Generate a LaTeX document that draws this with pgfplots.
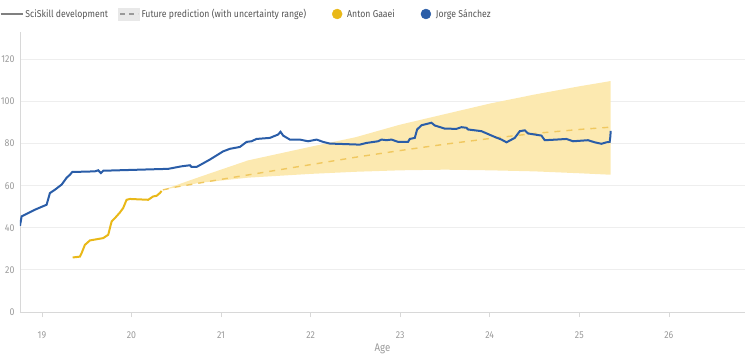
\documentclass[border=0pt]{standalone}
\usepackage{pgfplots}
\pgfplotsset{compat=1.18}
\usepackage{fontspec}
\setmainfont{Fira Sans}[FakeStretch=0.88]
\definecolor{jblue}{HTML}{2A5DA8}
\definecolor{ayellow}{HTML}{E9B818}
\definecolor{band}{HTML}{FCE9B0}
\definecolor{dashc}{HTML}{F0C860}
\definecolor{gridc}{HTML}{EEEEEE}
\definecolor{axc}{HTML}{D8D8D8}
\definecolor{tickc}{HTML}{9A9A9A}
\definecolor{legc}{HTML}{555555}
\begin{document}
\begin{tikzpicture}
\begin{axis}[
  at={(20pt,47pt)}, anchor=south west,
  scale only axis, width=725pt, height=280pt,
  xmin=18.755, xmax=26.85, ymin=0, ymax=133,
  axis x line*=bottom, axis y line*=left,
  axis line style={axc, line width=0.8pt},
  xtick={19,20,...,26}, ytick={0,20,...,120},
  ymajorgrids, grid style={gridc, line width=0.8pt},
  tick align=outside, major tick length=5pt,
  x tick style={axc, line width=0.6pt}, y tick style={draw=none},
  /pgf/number format/assume math mode=true,
  tick label style={font=\fontsize{10}{12}\selectfont, text=tickc},
  xticklabel style={yshift=-11pt},
  yticklabel style={xshift=3pt},
  xlabel={Age}, xlabel style={font=\fontsize{11}{13}\selectfont, text=tickc, yshift=1pt},
  legend columns=4,
  legend style={draw=none, fill=none, inner sep=0pt, outer sep=0pt, at={(axis description cs:0,1)}, anchor=west,
    xshift=-20pt, yshift=18pt, font=\fontsize{9.9}{11}\selectfont, text=legc,
    /tikz/every even column/.append style={column sep=8pt}},
]
\addlegendimage{legend image code/.code={\draw[color=gray, line width=1.5pt] (0pt,0pt) -- (22pt,0pt);}}
\addlegendentry{SciSkill development}
\addlegendimage{legend image code/.code={\fill[gray!18] (0pt,-6pt) rectangle (21pt,6pt); \draw[color=gray!80, line width=1.2pt, dash pattern=on 5pt off 4pt] (2pt,0pt) -- (20pt,0pt);}}
\addlegendentry{Future prediction (with uncertainty range)}
\addlegendimage{legend image code/.code={\path[draw=none,fill=none] (0pt,0pt) -- (29pt,0pt); \fill[ayellow] (21pt,0pt) circle (5pt);}}
\addlegendentry{Anton Gaaei}
\addlegendimage{legend image code/.code={\path[draw=none,fill=none] (0pt,0pt) -- (29pt,0pt); \fill[jblue] (21pt,0pt) circle (5pt);}}
\addlegendentry{Jorge Sánchez}

% uncertainty band
\addplot[fill=band, draw=none, forget plot] coordinates {
 (20.35,58) (20.75,64) (21.3,72) (22,78.5) (22.5,83) (23,89) (23.5,94) (24,99) (24.5,103.3) (25,107.2) (25.35,109.7)
 (25.35,65.2) (25,65.9) (24.5,66.8) (24,67.3) (23.5,67.6) (23,67.3) (22.5,66.6) (22,65.6) (21.3,63.8) (20.75,61.3) (20.35,58)
} -- cycle;
% prediction
\addplot[dashc, line width=1.4pt, dash pattern=on 6pt off 6pt, forget plot] coordinates {
 (20.35,58) (20.5,59.4) (21,63) (21.5,66.5) (22,70) (22.5,73.5) (23,76.7) (23.5,79.7) (24,82.4) (24.5,84.8) (25,86.7) (25.35,87.8)
};
% Anton Gaaei
\addplot[ayellow, line width=2pt, forget plot] coordinates {
 (19.343,25.9) (19.424,26.3) (19.443,28.0) (19.480,31.9) (19.536,34.0) (19.684,35.1) (19.740,36.7)
 (19.778,43.0) (19.815,44.6) (19.871,47.3) (19.907,49.4) (19.945,53.3) (19.982,53.7) (20.186,53.3)
 (20.242,54.9) (20.280,55.2) (20.317,56.5) (20.336,57.5)
};
% Jorge Sanchez
\addplot[jblue, line width=2pt, forget plot] coordinates {
 (18.755,40.95) (18.773,45.4) (18.922,48.6) (19.052,50.95) (19.089,56.5) (19.145,58.1) (19.220,60.5)
 (19.276,63.8) (19.313,65.2) (19.338,66.5) (19.592,66.8) (19.628,67.3) (19.658,66.0) (19.684,67.1)
 (20.410,68.0) (20.559,69.2) (20.652,69.7) (20.671,68.9) (20.727,68.9) (20.875,72.4) (21.023,76.3)
 (21.098,77.5) (21.210,78.4) (21.285,80.8) (21.340,81.1) (21.396,82.2) (21.545,82.7) (21.637,84.3)
 (21.664,85.6) (21.693,83.8) (21.768,81.9) (21.879,81.9) (21.972,81.1) (22.066,81.9) (22.140,80.8)
 (22.214,80.0) (22.289,79.9) (22.549,79.5) (22.624,80.3) (22.753,81.1) (22.791,81.9) (22.847,81.6)
 (22.903,81.9) (22.977,80.8) (23.088,80.8) (23.107,82.2) (23.163,82.7) (23.189,86.7) (23.238,88.7)
 (23.349,89.9) (23.386,88.6) (23.498,87.1) (23.628,87.0) (23.684,87.8) (23.740,87.5) (23.758,86.7)
 (23.907,85.9) (24.037,83.5) (24.131,81.9) (24.187,80.6) (24.279,82.7) (24.335,85.9) (24.391,86.3)
 (24.428,84.8) (24.577,83.8) (24.614,81.6) (24.744,81.9) (24.856,82.2) (24.930,81.1) (25.097,81.6)
 (25.172,80.6) (25.247,79.9) (25.302,80.6) (25.339,80.8) (25.347,83.5) (25.35,86)
};
\end{axis}
\pgfresetboundingbox
\useasboundingbox (0pt,0pt) rectangle (750pt,359pt);
\end{tikzpicture}
\end{document}
